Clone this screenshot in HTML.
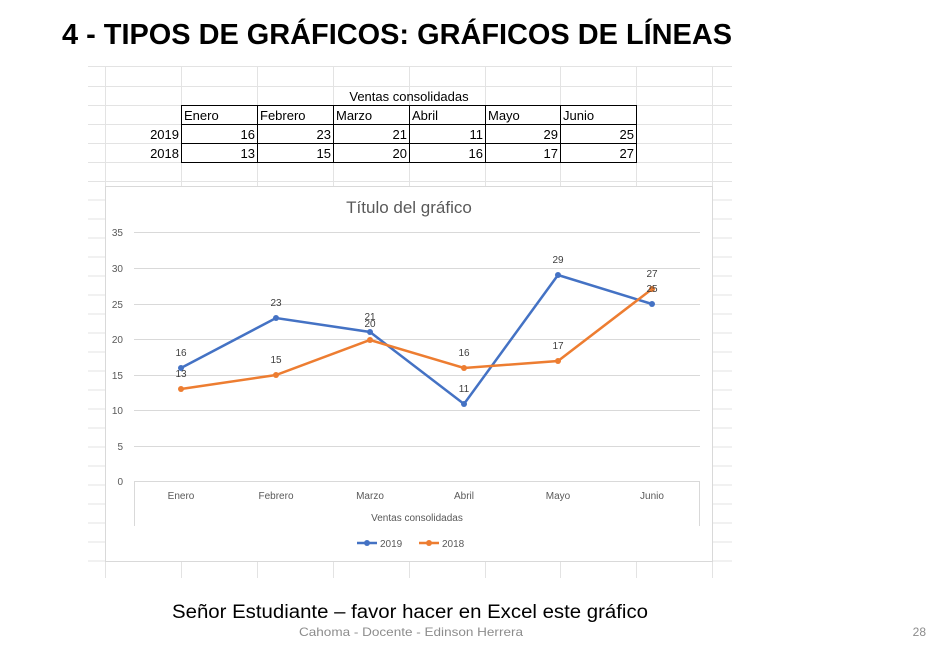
<!DOCTYPE html>
<html><head><meta charset="utf-8"><style>
body{margin:0;width:950px;height:654px;background:#fff;overflow:hidden;font-family:"Liberation Sans",sans-serif;}
</style></head><body>
<svg width="950" height="654" xmlns="http://www.w3.org/2000/svg" font-family="Liberation Sans, sans-serif">
<text x="62" y="44" font-size="29" font-weight="bold" fill="#000" textLength="670" lengthAdjust="spacingAndGlyphs">4 - TIPOS DE GRÁFICOS:  GRÁFICOS DE LÍNEAS</text>
<!-- grid -->
<g stroke="#e3e3e3" stroke-width="1">
<line x1="88" y1="66.5" x2="732" y2="66.5"/><line x1="88" y1="86.5" x2="732" y2="86.5"/>
<line x1="88" y1="105.5" x2="732" y2="105.5"/><line x1="88" y1="124.5" x2="732" y2="124.5"/>
<line x1="88" y1="143.5" x2="732" y2="143.5"/><line x1="88" y1="162.5" x2="732" y2="162.5"/>
<line x1="88" y1="181.5" x2="732" y2="181.5"/>
<line x1="88" y1="200" x2="105" y2="200"/><line x1="713" y1="200" x2="732" y2="200"/>
<line x1="88" y1="219" x2="105" y2="219"/><line x1="713" y1="219" x2="732" y2="219"/>
<line x1="88" y1="238" x2="105" y2="238"/><line x1="713" y1="238" x2="732" y2="238"/>
<line x1="88" y1="257" x2="105" y2="257"/><line x1="713" y1="257" x2="732" y2="257"/>
<line x1="88" y1="276" x2="105" y2="276"/><line x1="713" y1="276" x2="732" y2="276"/>
<line x1="88" y1="295" x2="105" y2="295"/><line x1="713" y1="295" x2="732" y2="295"/>
<line x1="88" y1="314" x2="105" y2="314"/><line x1="713" y1="314" x2="732" y2="314"/>
<line x1="88" y1="333" x2="105" y2="333"/><line x1="713" y1="333" x2="732" y2="333"/>
<line x1="88" y1="352" x2="105" y2="352"/><line x1="713" y1="352" x2="732" y2="352"/>
<line x1="88" y1="371" x2="105" y2="371"/><line x1="713" y1="371" x2="732" y2="371"/>
<line x1="88" y1="390" x2="105" y2="390"/><line x1="713" y1="390" x2="732" y2="390"/>
<line x1="88" y1="409" x2="105" y2="409"/><line x1="713" y1="409" x2="732" y2="409"/>
<line x1="88" y1="428" x2="105" y2="428"/><line x1="713" y1="428" x2="732" y2="428"/>
<line x1="88" y1="447" x2="105" y2="447"/><line x1="713" y1="447" x2="732" y2="447"/>
<line x1="88" y1="466" x2="105" y2="466"/><line x1="713" y1="466" x2="732" y2="466"/>
<line x1="88" y1="485" x2="105" y2="485"/><line x1="713" y1="485" x2="732" y2="485"/>
<line x1="88" y1="504" x2="105" y2="504"/><line x1="713" y1="504" x2="732" y2="504"/>
<line x1="88" y1="523" x2="105" y2="523"/><line x1="713" y1="523" x2="732" y2="523"/>
<line x1="88" y1="542" x2="105" y2="542"/><line x1="713" y1="542" x2="732" y2="542"/>
<line x1="88" y1="561" x2="105" y2="561"/><line x1="713" y1="561" x2="732" y2="561"/>
<line x1="105.5" y1="66" x2="105.5" y2="186"/><line x1="181.5" y1="66" x2="181.5" y2="186"/>
<line x1="257.5" y1="66" x2="257.5" y2="186"/><line x1="333.5" y1="66" x2="333.5" y2="186"/>
<line x1="409.5" y1="66" x2="409.5" y2="186"/><line x1="485.5" y1="66" x2="485.5" y2="186"/>
<line x1="560.5" y1="66" x2="560.5" y2="186"/><line x1="636.5" y1="66" x2="636.5" y2="186"/>
<line x1="712.5" y1="66" x2="712.5" y2="186"/>
<line x1="105.5" y1="562" x2="105.5" y2="578"/><line x1="181.5" y1="562" x2="181.5" y2="578"/>
<line x1="257.5" y1="562" x2="257.5" y2="578"/><line x1="333.5" y1="562" x2="333.5" y2="578"/>
<line x1="409.5" y1="562" x2="409.5" y2="578"/><line x1="485.5" y1="562" x2="485.5" y2="578"/>
<line x1="560.5" y1="562" x2="560.5" y2="578"/><line x1="636.5" y1="562" x2="636.5" y2="578"/>
<line x1="712.5" y1="562" x2="712.5" y2="578"/>
</g>
<!-- table -->
<g stroke="#000" stroke-width="1" fill="none">
<rect x="181.5" y="105.5" width="455" height="57"/>
<line x1="181.5" y1="124.5" x2="636.5" y2="124.5"/><line x1="181.5" y1="143.5" x2="636.5" y2="143.5"/>
<line x1="257.5" y1="105" x2="257.5" y2="162"/><line x1="333.5" y1="105" x2="333.5" y2="162"/>
<line x1="409.5" y1="105" x2="409.5" y2="162"/><line x1="485.5" y1="105" x2="485.5" y2="162"/>
<line x1="560.5" y1="105" x2="560.5" y2="162"/>
</g>
<g font-size="13" fill="#000">
<text x="409" y="101" text-anchor="middle">Ventas consolidadas</text>
<text x="184" y="120">Enero</text><text x="260" y="120">Febrero</text><text x="336" y="120">Marzo</text>
<text x="412" y="120">Abril</text><text x="488" y="120">Mayo</text><text x="563" y="120">Junio</text>
<g text-anchor="end">
<text x="179" y="139">2019</text><text x="255" y="139">16</text><text x="331" y="139">23</text><text x="407" y="139">21</text><text x="483" y="139">11</text><text x="558" y="139">29</text><text x="634" y="139">25</text>
<text x="179" y="158">2018</text><text x="255" y="158">13</text><text x="331" y="158">15</text><text x="407" y="158">20</text><text x="483" y="158">16</text><text x="558" y="158">17</text><text x="634" y="158">27</text>
</g></g>
<!-- chart -->
<rect x="105.5" y="186.5" width="607" height="375" fill="#fff" stroke="#d9d9d9"/>
<text x="409" y="213" text-anchor="middle" font-size="17" fill="#595959">Título del gráfico</text>
<g stroke="#d9d9d9" stroke-width="1">
<line x1="134" y1="232.5" x2="700" y2="232.5"/><line x1="134" y1="268.5" x2="700" y2="268.5"/>
<line x1="134" y1="304.5" x2="700" y2="304.5"/><line x1="134" y1="339.5" x2="700" y2="339.5"/>
<line x1="134" y1="375.5" x2="700" y2="375.5"/><line x1="134" y1="410.5" x2="700" y2="410.5"/>
<line x1="134" y1="446.5" x2="700" y2="446.5"/><line x1="134" y1="481.5" x2="700" y2="481.5"/>
<line x1="134.5" y1="481" x2="134.5" y2="526"/><line x1="699.5" y1="481" x2="699.5" y2="526"/>
</g>
<g font-size="10" fill="#595959" text-anchor="end">
<text x="123" y="236">35</text><text x="123" y="272">30</text><text x="123" y="308">25</text><text x="123" y="343">20</text>
<text x="123" y="379">15</text><text x="123" y="414">10</text><text x="123" y="450">5</text><text x="123" y="485">0</text>
</g>
<g font-size="10" fill="#595959" text-anchor="middle">
<text x="181" y="499">Enero</text><text x="276" y="499">Febrero</text><text x="370" y="499">Marzo</text>
<text x="464" y="499">Abril</text><text x="558" y="499">Mayo</text><text x="652" y="499">Junio</text>
<text x="417" y="521">Ventas consolidadas</text>
</g>
<polyline points="181,368 276,318 370,332 464,404 558,275 652,304" fill="none" stroke="#4472c4" stroke-width="2.5"/>
<polyline points="181,389 276,375 370,340 464,368 558,361 652,289" fill="none" stroke="#ed7d31" stroke-width="2.5"/>
<g fill="#4472c4"><circle cx="181" cy="368" r="3"/><circle cx="276" cy="318" r="3"/><circle cx="370" cy="332" r="3"/><circle cx="464" cy="404" r="3"/><circle cx="558" cy="275" r="3"/><circle cx="652" cy="304" r="3"/></g>
<g fill="#ed7d31"><circle cx="181" cy="389" r="3"/><circle cx="276" cy="375" r="3"/><circle cx="370" cy="340" r="3"/><circle cx="464" cy="368" r="3"/><circle cx="558" cy="361" r="3"/><circle cx="652" cy="289" r="3"/></g>
<g font-size="10" fill="#404040" text-anchor="middle">
<text x="181" y="356">16</text><text x="276" y="306">23</text><text x="370" y="320">21</text><text x="464" y="392">11</text><text x="558" y="263">29</text><text x="652" y="292">25</text>
<text x="181" y="377">13</text><text x="276" y="363">15</text><text x="370" y="327">20</text><text x="464" y="356">16</text><text x="558" y="349">17</text><text x="652" y="277">27</text>
</g>
<line x1="357" y1="543" x2="377" y2="543" stroke="#4472c4" stroke-width="2.5"/><circle cx="367" cy="543" r="3" fill="#4472c4"/>
<text x="380" y="547" font-size="10" fill="#595959">2019</text>
<line x1="419" y1="543" x2="439" y2="543" stroke="#ed7d31" stroke-width="2.5"/><circle cx="429" cy="543" r="3" fill="#ed7d31"/>
<text x="442" y="547" font-size="10" fill="#595959">2018</text>
<text x="172" y="618" font-size="19" fill="#000" textLength="476" lengthAdjust="spacingAndGlyphs">Señor Estudiante – favor hacer en Excel este gráfico</text>
<text x="299" y="636" font-size="12" fill="#8c8c8c" textLength="224" lengthAdjust="spacingAndGlyphs">Cahoma - Docente - Edinson Herrera</text>
<text x="926" y="636" text-anchor="end" font-size="12" fill="#8c8c8c">28</text>
</svg>
</body></html>
